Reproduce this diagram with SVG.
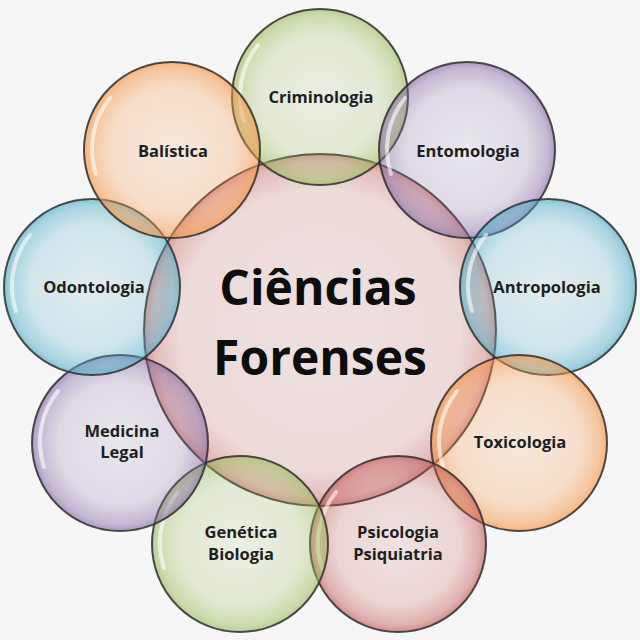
<svg xmlns="http://www.w3.org/2000/svg" xmlns:xlink="http://www.w3.org/1999/xlink" width="640" height="640" viewBox="0 0 640 640">
<defs>
<radialGradient id="gGreen" cx="0.5" cy="0.5" r="0.5">
<stop offset="0" stop-color="#9bbb59" stop-opacity="0.12"/>
<stop offset="0.7" stop-color="#9bbb59" stop-opacity="0.22"/>
<stop offset="0.92" stop-color="#9bbb59" stop-opacity="0.45"/>
<stop offset="1" stop-color="#9bbb59" stop-opacity="0.65"/>
</radialGradient>
<radialGradient id="gPurple" cx="0.5" cy="0.5" r="0.5">
<stop offset="0" stop-color="#8064a2" stop-opacity="0.10"/>
<stop offset="0.7" stop-color="#8064a2" stop-opacity="0.2"/>
<stop offset="0.92" stop-color="#8064a2" stop-opacity="0.42"/>
<stop offset="1" stop-color="#8064a2" stop-opacity="0.62"/>
</radialGradient>
<radialGradient id="gBlue" cx="0.5" cy="0.5" r="0.5">
<stop offset="0" stop-color="#4bacc6" stop-opacity="0.12"/>
<stop offset="0.7" stop-color="#4bacc6" stop-opacity="0.22"/>
<stop offset="0.92" stop-color="#4bacc6" stop-opacity="0.45"/>
<stop offset="1" stop-color="#4bacc6" stop-opacity="0.65"/>
</radialGradient>
<radialGradient id="gOrange" cx="0.5" cy="0.5" r="0.5">
<stop offset="0" stop-color="#f79646" stop-opacity="0.14"/>
<stop offset="0.7" stop-color="#f79646" stop-opacity="0.25"/>
<stop offset="0.92" stop-color="#f79646" stop-opacity="0.5"/>
<stop offset="1" stop-color="#f79646" stop-opacity="0.7"/>
</radialGradient>
<radialGradient id="gRed" cx="0.5" cy="0.5" r="0.5">
<stop offset="0" stop-color="#c0504d" stop-opacity="0.12"/>
<stop offset="0.7" stop-color="#c0504d" stop-opacity="0.2"/>
<stop offset="0.92" stop-color="#c0504d" stop-opacity="0.42"/>
<stop offset="1" stop-color="#c0504d" stop-opacity="0.62"/>
</radialGradient>
<radialGradient id="gCenter" cx="0.5" cy="0.5" r="0.5">
<stop offset="0" stop-color="#c0504d" stop-opacity="0.13"/>
<stop offset="0.8" stop-color="#c0504d" stop-opacity="0.17"/>
<stop offset="0.95" stop-color="#c0504d" stop-opacity="0.35"/>
<stop offset="1" stop-color="#c0504d" stop-opacity="0.55"/>
</radialGradient>
<path id="hl" d="M -62 -52 A 81 81 0 0 0 -76 24"/>
</defs>
<style>
.bubble{stroke:#2e2e2e;stroke-opacity:0.85;stroke-width:2}
.hl{fill:none;stroke:#ffffff;stroke-opacity:0.6;stroke-width:4;stroke-linecap:round}
.lbl{font-family:"Open Sans","Liberation Sans",sans-serif;font-weight:700;font-size:16.5px;fill:#1e1e1e;text-anchor:middle}
.title{font-family:"Open Sans","Liberation Sans",sans-serif;font-weight:700;font-size:48px;fill:#0d0d0d;text-anchor:middle}
</style>
<rect width="640" height="640" fill="#f6f6f6"/>
<g id="center">
<circle class="bubble" cx="320" cy="330" r="176" fill="url(#gCenter)"/>
</g>
<g id="criminologia" transform="translate(320,97)">
<circle class="bubble" r="88" fill="url(#gGreen)"/>
<use xlink:href="#hl" class="hl"/>
<text class="lbl" x="1" y="6">Criminologia</text>
</g>
<g id="entomologia" transform="translate(467,150)">
<circle class="bubble" r="88" fill="url(#gPurple)"/>
<use xlink:href="#hl" class="hl"/>
<text class="lbl" x="1" y="7">Entomologia</text>
</g>
<g id="antropologia" transform="translate(548,287)">
<circle class="bubble" r="88" fill="url(#gBlue)"/>
<use xlink:href="#hl" class="hl"/>
<text class="lbl" x="-1" y="6">Antropologia</text>
</g>
<g id="toxicologia" transform="translate(519,443)">
<circle class="bubble" r="88" fill="url(#gOrange)"/>
<use xlink:href="#hl" class="hl"/>
<text class="lbl" x="1" y="5">Toxicologia</text>
</g>
<g id="psicologia" transform="translate(398,544)">
<circle class="bubble" r="88" fill="url(#gRed)"/>
<use xlink:href="#hl" class="hl"/>
<text class="lbl" x="0" y="-6">Psicologia</text>
<text class="lbl" x="0" y="16">Psiquiatria</text>
</g>
<g id="genetica" transform="translate(240,544)">
<circle class="bubble" r="88" fill="url(#gGreen)"/>
<use xlink:href="#hl" class="hl"/>
<text class="lbl" x="1" y="-6">Genética</text>
<text class="lbl" x="1" y="16">Biologia</text>
</g>
<g id="medicina-legal" transform="translate(120,443)">
<circle class="bubble" r="88" fill="url(#gPurple)"/>
<use xlink:href="#hl" class="hl"/>
<text class="lbl" x="2" y="-6">Medicina</text>
<text class="lbl" x="2" y="15">Legal</text>
</g>
<g id="odontologia" transform="translate(92,287)">
<circle class="bubble" r="88" fill="url(#gBlue)"/>
<use xlink:href="#hl" class="hl"/>
<text class="lbl" x="2" y="6">Odontologia</text>
</g>
<g id="balistica" transform="translate(172,150)">
<circle class="bubble" r="88" fill="url(#gOrange)"/>
<use xlink:href="#hl" class="hl"/>
<text class="lbl" x="1" y="7">Balística</text>
</g>
<g id="center-label">
<text class="title" x="318" y="305">Ciências</text>
<text class="title" x="320" y="375">Forenses</text>
</g>
<g id="connectors"/>
</svg>
